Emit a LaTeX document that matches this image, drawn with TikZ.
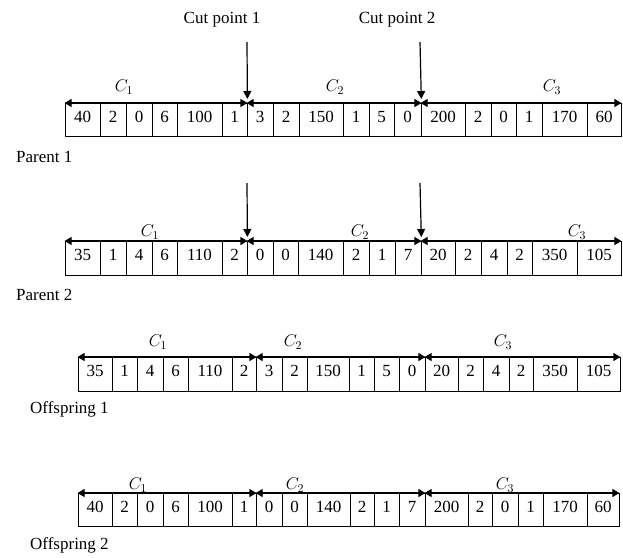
\documentclass[tikz,border=0pt]{standalone}
\usepackage{fix-cm}
\usepackage{fontspec}
\setmainfont{Liberation Serif}
\usetikzlibrary{arrows.meta}
\newcommand{\chromrow}[4]{%
  \foreach \a/\b/\t [count=\i] in {#4}
    \node[cell, minimum width={(\b-\a)*1pt}, text depth={(#3-#2-19)*1pt}]
      (#1-\i) at ({(\a+\b)/2},#2) {\t};
}
\newcommand{\clab}[1]{\(C_{#1}\)}
\begin{document}
\begin{tikzpicture}[x=1pt,y=-1pt,
  cell/.style={draw, line width=0.8pt, anchor=north, inner xsep=0pt, inner ysep=0pt,
    text height=19pt, font=\fontsize{17}{20}\selectfont},
  span/.style={line width=1.2pt, {Triangle[length=7pt,width=8pt]}-{Triangle[length=7pt,width=8pt]}},
  cutarrow/.style={line width=1.2pt, -{Triangle[length=8pt,width=8pt]}, shorten >=4pt},
  txt/.style={font=\fontsize{17}{20}\selectfont, inner sep=0pt},
  clabel/.style={font=\fontsize{17}{20}\selectfont, inner sep=0pt}]
\useasboundingbox (0,0) rectangle (623,557);

% Parent 1
\chromrow{pa}{103}{136}{65/100/40, 100/126/2, 126/152/0, 152/177/6, 177/222/100, 222/247/1,
  247/273/3, 273/299/2, 299/343/150, 343/369/1, 369/394/5, 394/421/0,
  421/465/200, 465/491/2, 491/516/0, 516/542/1, 542/587/170, 587/621/60}
% Parent 2
\chromrow{pb}{241}{275}{65/100/35, 100/126/1, 126/152/4, 152/177/6, 177/222/110, 222/247/2,
  247/273/0, 273/298/0, 298/343/140, 343/369/2, 369/395/1, 395/421/7,
  421/455/20, 455/481/2, 481/507/4, 507/532/2, 532/577/350, 577/621/105}
% Offspring 1
\chromrow{oa}{357}{391}{78/112/35, 112/137/1, 137/163/4, 163/188/6, 188/232/110, 232/256/2,
  256/282/3, 282/307/2, 307/349/150, 349/374/1, 374/399/5, 399/425/0,
  425/458/20, 458/483/2, 483/509/4, 509/533/2, 533/577/350, 577/620/105}
% Offspring 2
\chromrow{ob}{493}{526}{78/112/40, 112/137/2, 137/163/0, 163/188/6, 188/232/100, 232/256/1,
  256/282/0, 282/307/0, 307/350/140, 350/374/2, 374/399/1, 399/425/7,
  425/468/200, 468/492/2, 492/518/0, 518/543/1, 543/587/170, 587/619/60}

% spans
\foreach \r in {pa,pb,oa,ob}{
  \draw[span] (\r-1.north west) -- (\r-6.north east);
  \draw[span] (\r-7.north west) -- (\r-12.north east);
  \draw[span] (\r-13.north west) -- (\r-18.north east);
}

% C labels
\node[clabel] (ca1) at (124,87) {\clab{1}};
\node[clabel] (ca2) at (335,87) {\clab{2}};
\node[clabel] (ca3) at (552,87) {\clab{3}};
\node[clabel] (cb1) at (150,232) {\clab{1}};
\node[clabel] (cb2) at (360,232) {\clab{2}};
\node[clabel] (cb3) at (577,232) {\clab{3}};
\node[clabel] (cc1) at (158,342) {\clab{1}};
\node[clabel] (cc2) at (293,342) {\clab{2}};
\node[clabel] (cc3) at (503,342) {\clab{3}};
\node[clabel] (cd1) at (138,485) {\clab{1}};
\node[clabel] (cd2) at (295,485) {\clab{2}};
\node[clabel] (cd3) at (505,485) {\clab{3}};

% cut points
\node[txt] (cut1) at (222,20) {Cut point 1};
\node[txt] (cut2) at (397,20) {Cut point 2};
\coordinate (k1a) at (247,42);
\coordinate (k2a) at (420,42);
\coordinate (k1b) at (247,183);
\coordinate (k2b) at (420,183);
\draw[cutarrow] (k1a) -- (pa-6.north east);
\draw[cutarrow] (k2a) -- (pa-12.north east);
\draw[cutarrow] (k1b) -- (pb-6.north east);
\draw[cutarrow] (k2b) -- (pb-12.north east);

% row names
\node[txt, anchor=west] (n1) at (16,157) {Parent 1};
\node[txt, anchor=west] (n2) at (16,295) {Parent 2};
\node[txt, anchor=west] (n3) at (30,409) {Offspring 1};
\node[txt, anchor=west] (n4) at (30,545) {Offspring 2};
\end{tikzpicture}
\end{document}
